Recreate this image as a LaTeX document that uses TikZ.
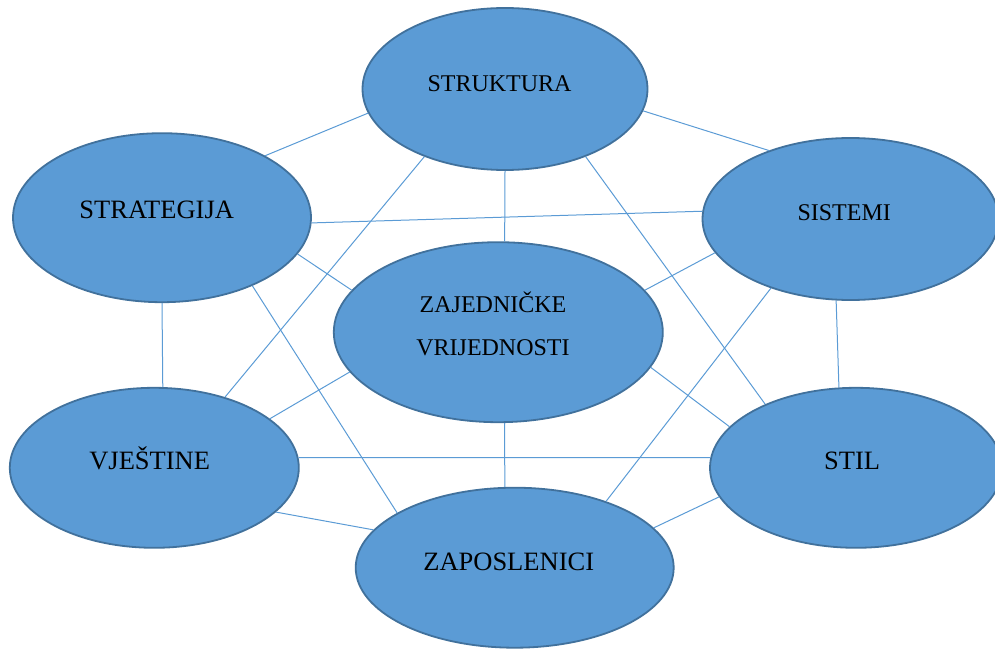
\documentclass[tikz,border=0pt]{standalone}
\usepackage{fontspec}
\setmainfont{Liberation Serif}
\usetikzlibrary{shapes.geometric}
\definecolor{efill}{RGB}{91,155,213}
\definecolor{eborder}{RGB}{65,113,156}
\definecolor{elink}{RGB}{91,155,213}
\tikzset{
  oval/.style={ellipse, draw=eborder, fill=efill, line width=1.8pt, inner sep=0pt},
  lbl/.style={anchor=base, inner sep=0pt, text=black},
  big/.style={font=\fontsize{26.5}{30}\selectfont},
  mid/.style={font=\fontsize{24}{28}\selectfont},
  link/.style={draw=elink, line width=1pt}
}
\begin{document}
\begin{tikzpicture}[x=1pt,y=-1pt]
\useasboundingbox (0,0) rectangle (995,650);
\node[oval, minimum width=285pt, minimum height=162pt] (str) at (505,89) {};
\node[oval, minimum width=298pt, minimum height=169pt] (stg) at (162,217.7) {};
\node[oval, minimum width=296pt, minimum height=162pt] (sis) at (850.5,219) {};
\node[oval, minimum width=329pt, minimum height=180pt] (zaj) at (498.3,332.2) {};
\node[oval, minimum width=289pt, minimum height=160pt] (vje) at (154.3,467.8) {};
\node[oval, minimum width=292pt, minimum height=160pt] (sti) at (856,467.8) {};
\node[oval, minimum width=318pt, minimum height=160pt] (zap) at (514.7,567.7) {};

\path[link] (str.190.2) -- (stg.31.2);
\path[link] (str.351.6) -- (sis.140.1);
\path[link] (str.270) -- (zaj.86.2);
\path[link] (str.220.2) -- (vje.45.9);
\path[link] (str.320.4) -- (sti.145.9);
\path[link] (stg.358.7) -- (sis.177.5);
\path[link] (stg.345.3) -- (zaj.164.5);
\path[link] (stg.270.4) -- (vje.84.3);
\path[link] (stg.323.3) -- (zap.155.6);
\path[link] (sis.194.7) -- (zaj.16);
\path[link] (sis.260.5) -- (sti.102.9);
\path[link] (sis.221.4) -- (zap.36);
\path[link] (zaj.195.5) -- (vje.23.9);
\path[link] (zaj.347) -- (sti.162.7);
\path[link] (zaj.274.2) -- (zap.97);
\path[link] (vje.4.7) -- (sti.176.6);
\path[link] (vje.340.4) -- (zap.165.7);
\path[link] (sti.192.5) -- (zap.16.9);

\node[lbl, mid] (tstr) at (499.5,91.7) {STRUKTURA};
\node[lbl, big] (tstg) at (156.7,218.3) {STRATEGIJA};
\node[lbl, mid] (tsis) at (844.2,220) {SISTEMI};
\node[inner sep=0pt, align=center, font=\fontsize{24}{42.3}\selectfont] (tzaj) at (493,324) {ZAJEDNIČKE\\VRIJEDNOSTI};
\node[lbl, big] (tvje) at (149.7,469.3) {VJEŠTINE};
\node[lbl, big] (tsti) at (852.2,469.3) {STIL};
\node[lbl, big] (tzap) at (508.7,570.7) {ZAPOSLENICI};
\end{tikzpicture}
\end{document}
